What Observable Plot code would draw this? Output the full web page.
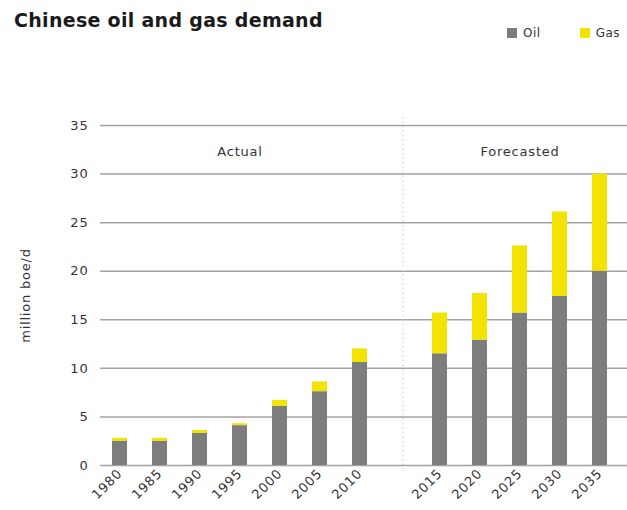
<!DOCTYPE html>
<html>
<head>
<meta charset="utf-8">
<script src="https://cdn.jsdelivr.net/npm/d3@7"></script>
<script src="https://cdn.jsdelivr.net/npm/@observablehq/plot@0.6"></script>
<style>
  html, body { margin: 0; padding: 0; background: #fff; }
  #wrap { position: relative; width: 627px; height: 510px; overflow: hidden; font-family: "DejaVu Sans", sans-serif; }
  #title { position: absolute; left: 14px; top: 9px; font-size: 19px; font-weight: bold; color: #1a1a1a; letter-spacing: 0.3px; }
  #legend { position: absolute; left: 507px; top: 26px; font-size: 12px; color: #333; white-space: nowrap; letter-spacing: 0.5px; }
  #legend span.sw { display: inline-block; width: 10px; height: 10px; margin-right: 6px; vertical-align: -1px; }
  #legend span.item { margin-right: 39px; }
  #chart { position: absolute; left: 0; top: 0; }
  #chart svg text { letter-spacing: 0.8px; }
</style>
</head>
<body>
<div id="wrap">
  <div id="chart"></div>
  <div id="title">Chinese oil and gas demand</div>
  <div id="legend"></div>
</div>
<script>
const years = ["1980","1985","1990","1995","2000","2005","2010","2015","2020","2025","2030","2035"];
const oil = [2.5, 2.5, 3.3, 4.1, 6.1, 7.6, 10.6, 11.5, 12.9, 15.7, 17.4, 20.0];
const gas = [0.3, 0.3, 0.3, 0.2, 0.6, 1.0, 1.4, 4.2, 4.8, 6.9, 8.7, 10.0];
const seriesNames = ["Oil", "Gas"];
const seriesColors = ["#7d7d7d", "#f2e400"];
const yTicks = [0, 5, 10, 15, 20, 25, 30, 35];
const gapKey = " ";
const xDomain = [...years.slice(0, 7), gapKey, ...years.slice(7)];
const periodLabels = [{label: "Actual", at: "1995"}, {label: "Forecasted", at: "2025"}];

const data = [];
years.forEach((yr, i) => {
  data.push({year: yr, series: "Oil", value: oil[i]});
  data.push({year: yr, series: "Gas", value: gas[i]});
});

const chart = Plot.plot({
  width: 627,
  height: 510,
  marginTop: 125,
  marginBottom: 45,
  marginLeft: 100,
  marginRight: 7,
  style: {fontFamily: "DejaVu Sans, sans-serif", fontSize: "13px", color: "#333", background: "transparent"},
  x: {domain: xDomain, paddingInner: 0.62, paddingOuter: 0.31, align: 0.5},
  y: {domain: [0, 35]},
  color: {domain: seriesNames, range: seriesColors},
  marks: [
    Plot.ruleY(yTicks, {stroke: "#a3a3a3", strokeWidth: 1.5, insetRight: -7}),
    Plot.ruleX([gapKey], {stroke: "#c8c8c8", strokeDasharray: "1.5,3", insetTop: -8, insetBottom: -7, dx: 3}),
    Plot.barY(data, {x: "year", y: "value", fill: "series", order: seriesNames}),
    Plot.text(periodLabels, {x: "at", y: 32.3, text: "label", fontSize: 13, fill: "#333"}),
    Plot.axisY({ticks: yTicks, tickSize: 0, tickPadding: 12, fontSize: 13,
      label: "million boe/d", labelAnchor: "center", labelArrow: "none", labelOffset: 80}),
    Plot.axisX({tickSize: 0, tickRotate: -45, tickPadding: 6, fontSize: 13, label: null,
      tickFormat: d => d === gapKey ? "" : d})
  ]
});
document.getElementById("chart").appendChild(chart);

const legend = document.getElementById("legend");
seriesNames.forEach((name, i) => {
  const item = document.createElement("span");
  item.className = "item";
  const sw = document.createElement("span");
  sw.className = "sw";
  sw.style.background = seriesColors[i];
  item.appendChild(sw);
  item.appendChild(document.createTextNode(name));
  legend.appendChild(item);
});
</script>
</body>
</html>
